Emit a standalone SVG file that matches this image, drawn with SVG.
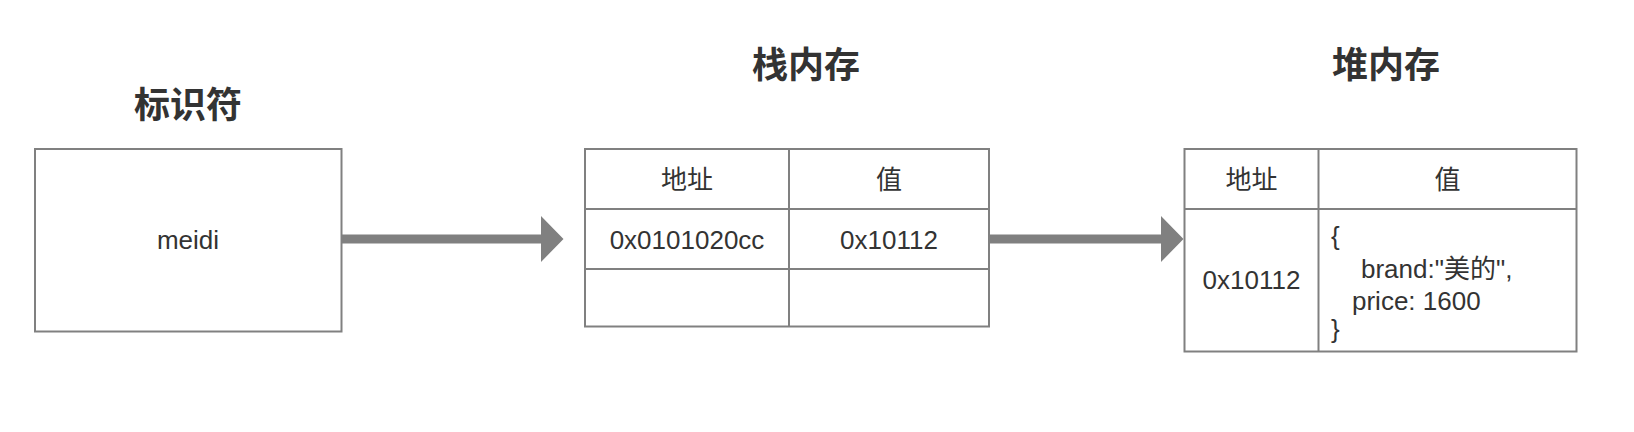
<svg xmlns="http://www.w3.org/2000/svg" width="1634" height="432" viewBox="0 0 1634 432">
<style>
.bg{fill:#ffffff}
.box{fill:#ffffff;stroke:#808080;stroke-width:2}
.ln{stroke:#808080;stroke-width:2;fill:none}
.title{font-family:"Liberation Sans","Noto Sans CJK SC",sans-serif;font-size:36px;font-weight:bold;fill:#333333;text-anchor:middle}
.t{font-family:"Liberation Sans","Noto Sans CJK SC",sans-serif;font-size:26px;fill:#333333;text-anchor:middle}
.tl{font-family:"Liberation Sans","Noto Sans CJK SC",sans-serif;font-size:26px;fill:#333333}
.arrow{fill:#808080;stroke:none}
</style>
<rect class="bg" x="0" y="0" width="1634" height="432"/>
<g id="title-identifier"><text class="title" x="188" y="118">标识符</text></g>
<g id="title-stack"><text class="title" x="806" y="78">栈内存</text></g>
<g id="title-heap"><text class="title" x="1386" y="78">堆内存</text></g>
<g id="identifier">
<rect class="box" x="35" y="149" width="306.5" height="182.5"/>
<text class="t" x="188" y="248.5">meidi</text>
</g>
<g id="stack">
<rect class="box" x="585" y="149" width="404" height="177.5"/>
<line class="ln" x1="789" y1="149" x2="789" y2="326.5"/>
<line class="ln" x1="585" y1="209" x2="989" y2="209"/>
<line class="ln" x1="585" y1="269" x2="989" y2="269"/>
<text class="t" x="687" y="188.5">地址</text>
<text class="t" x="889" y="188.5">值</text>
<text class="t" x="687" y="248.5">0x0101020cc</text>
<text class="t" x="889" y="248.5">0x10112</text>
</g>
<g id="heap">
<rect class="box" x="1184.5" y="149" width="392" height="202.5"/>
<line class="ln" x1="1318.5" y1="149" x2="1318.5" y2="351.5"/>
<line class="ln" x1="1184.5" y1="209" x2="1576.5" y2="209"/>
<text class="t" x="1251.5" y="188.5">地址</text>
<text class="t" x="1447.5" y="188.5">值</text>
<text class="t" x="1251.5" y="289">0x10112</text>
<text class="tl" x="1331" y="245">{</text>
<text class="tl" x="1361" y="278">brand:"美的",</text>
<text class="tl" x="1352" y="310">price: 1600</text>
<text class="tl" x="1331" y="338">}</text>
</g>
<g id="connectors">
<path class="arrow" d="M341.5 234.5 H541 V216 L563.5 239 L541 262 V243.5 H341.5 Z"/>
<path class="arrow" d="M989 234.5 H1161 V216 L1183.5 239 L1161 262 V243.5 H989 Z"/>
</g>
</svg>
